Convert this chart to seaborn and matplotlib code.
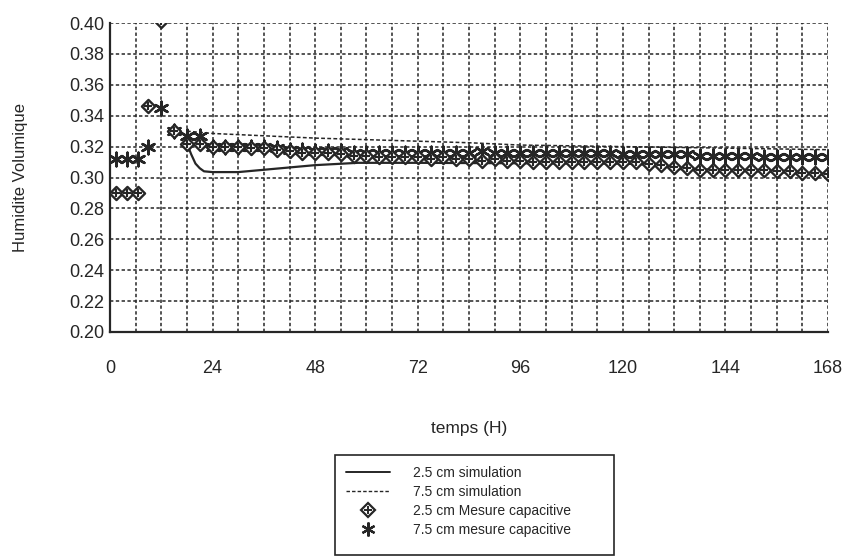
import numpy as np
import pandas as pd
import seaborn as sns
import matplotlib
matplotlib.use("Agg")
import matplotlib.pyplot as plt
from matplotlib.lines import Line2D
from matplotlib.patches import Rectangle
from matplotlib.legend_handler import HandlerTuple

# ---------------- data ----------------
meas_time = [1.5, 4, 6.5, 9, 12, 15, 18, 21, 24, 27, 30, 33, 36, 39, 42, 45, 48, 51, 54, 57,
             60, 63, 66, 69, 72, 75, 78, 81, 84, 87, 90, 93, 96, 99, 102, 105, 108, 111, 114,
             117, 120, 123, 126, 129, 132, 135, 138, 141, 144, 147, 150, 153, 156, 159, 162,
             165, 168]
meas_25 = [0.290, 0.290, 0.290, 0.346, 0.401, 0.330, 0.322, 0.322, 0.320, 0.320, 0.320, 0.319,
           0.319, 0.318, 0.317, 0.316, 0.316, 0.316, 0.315, 0.314, 0.314, 0.313, 0.313, 0.313,
           0.313, 0.312, 0.313, 0.312, 0.312, 0.311, 0.312, 0.311, 0.311, 0.310, 0.310, 0.310,
           0.310, 0.310, 0.310, 0.310, 0.310, 0.310, 0.309, 0.308, 0.307, 0.306, 0.305, 0.305,
           0.305, 0.305, 0.305, 0.305, 0.304, 0.304, 0.303, 0.303, 0.302]
meas_75 = [0.312, 0.312, 0.312, 0.320, 0.345, 0.330, 0.327, 0.327, 0.320, 0.320, 0.320, 0.320,
           0.320, 0.319, 0.318, 0.318, 0.317, 0.317, 0.317, 0.316, 0.316, 0.316, 0.316, 0.316,
           0.316, 0.316, 0.316, 0.316, 0.316, 0.317, 0.316, 0.316, 0.316, 0.316, 0.316, 0.316,
           0.316, 0.316, 0.316, 0.316, 0.315, 0.315, 0.315, 0.315, 0.315, 0.315, 0.314, 0.314,
           0.314, 0.314, 0.314, 0.313, 0.313, 0.313, 0.313, 0.313, 0.313]

sim25_time = [18, 19, 20, 21, 22, 24, 30, 36, 42, 48, 58, 72, 96, 120, 130, 132, 144, 156, 168]
sim25_val = [0.322, 0.315, 0.309, 0.306, 0.304, 0.3035, 0.3035, 0.305, 0.3065, 0.308, 0.3095,
             0.3095, 0.3092, 0.309, 0.308, 0.3055, 0.305, 0.3035, 0.302]
sim75_time = [18, 24, 36, 48, 60, 72, 84, 96, 120, 144, 168]
sim75_val = [0.330, 0.3285, 0.327, 0.3255, 0.3245, 0.3235, 0.3225, 0.321, 0.320, 0.319, 0.318]

x_ticks = [0, 24, 48, 72, 96, 120, 144, 168]
y_ticks = [0.20, 0.22, 0.24, 0.26, 0.28, 0.30, 0.32, 0.34, 0.36, 0.38, 0.40]

labels = ["2.5 cm simulation", "7.5 cm simulation",
          "2.5 cm Mesure capacitive", "7.5 cm mesure capacitive"]

# ---------------- plot ----------------
sns.set_style("white")
plt.rcParams["font.family"] = ["Liberation Sans", "DejaVu Sans"]
ink = "#262626"

fig = plt.figure(figsize=(8.44, 5.59), dpi=100)
ax = fig.add_axes([110 / 844, 1 - 332 / 559, (828 - 110) / 844, (332 - 23) / 559])

ax.set_xlim(0, 168)
ax.set_ylim(0.20, 0.40)

# grid
ax.set_xticks(x_ticks)
ax.set_xticks(np.arange(0, 169, 6), minor=True)
ax.set_yticks(y_ticks)
ax.grid(True, which="both", color=ink, linestyle=(0, (2.2, 1.6)), linewidth=1.1)
ax.set_axisbelow(True)

sim25 = pd.DataFrame({"t": sim25_time, "v": sim25_val})
sim75 = pd.DataFrame({"t": sim75_time, "v": sim75_val})
meas = pd.DataFrame({"t": meas_time, "m25": meas_25, "m75": meas_75})

sns.lineplot(data=sim25, x="t", y="v", ax=ax, color=ink, linewidth=1.6, zorder=3)
sns.lineplot(data=sim75, x="t", y="v", ax=ax, color=ink, linewidth=1.1,
             linestyle=(0, (2.5, 1.5)), zorder=3)

ast = (6, 2, 0)
sns.scatterplot(data=meas, x="t", y="m75", ax=ax, marker=ast, s=95, color=ink,
                linewidth=1.8, zorder=4)
sns.scatterplot(data=meas, x="t", y="m25", ax=ax, marker="D", s=45, facecolor="white",
                edgecolor=ink, linewidth=1.7, zorder=5)
sns.scatterplot(data=meas, x="t", y="m25", ax=ax, marker="+", s=30, color=ink,
                linewidth=1.5, zorder=6)

for s in ["top", "right"]:
    ax.spines[s].set_visible(False)
for s in ["left", "bottom"]:
    ax.spines[s].set_color(ink)
    ax.spines[s].set_linewidth(1.6)

ax.tick_params(axis="both", which="both", length=0, labelsize=13, labelcolor=ink)
ax.tick_params(axis="x", pad=20)
ax.tick_params(axis="y", pad=4)
ax.set_yticklabels([f"{v:.2f}" for v in y_ticks])
ax.set_xticklabels([str(v) for v in x_ticks])

ax.set_xlabel("temps (H)", fontsize=12.5, color=ink, labelpad=32)
ax.set_ylabel("Humidite Volumique", fontsize=12, color=ink, labelpad=30)

# legend
h1 = Line2D([], [], color=ink, linewidth=1.4)
h2 = Line2D([], [], color=ink, linewidth=1.0, linestyle=(0, (2.5, 1.5)))
h3a = Line2D([], [], linestyle="none", marker="D", markersize=7, markerfacecolor="white",
             markeredgecolor=ink, markeredgewidth=1.6)
h3b = Line2D([], [], linestyle="none", marker="+", markersize=6, color=ink, markeredgewidth=1.4)
h4 = Line2D([], [], linestyle="none", marker=ast, markersize=10, color=ink, markeredgewidth=1.6)
leg = fig.legend([h1, h2, (h3a, h3b), h4], labels,
                 handler_map={tuple: HandlerTuple(ndivide=1, pad=0)},
                 loc="upper left", bbox_to_anchor=(346 / 844, 1 - 466 / 559),
                 fontsize=10, frameon=False, borderpad=0, labelspacing=0.36,
                 handlelength=3.2, handletextpad=1.65, borderaxespad=0)
for t in leg.get_texts():
    t.set_color(ink)
fig.patches.append(Rectangle((335 / 844, 1 - 555 / 559), (614 - 335) / 844, (555 - 455) / 559,
                             transform=fig.transFigure, fill=False, edgecolor=ink,
                             linewidth=1.2))

fig.savefig("out.png", dpi=100)
